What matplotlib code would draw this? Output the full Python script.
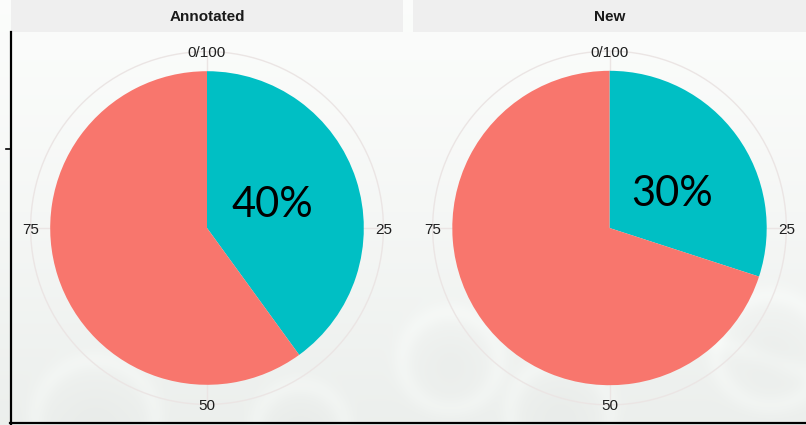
import numpy as np
import matplotlib
matplotlib.use("Agg")
import matplotlib.pyplot as plt
from matplotlib.patches import Circle, Rectangle
from matplotlib.lines import Line2D

# ---- data ----
panels = ["Annotated", "New"]
first_share = [40, 30]          # teal slice, percent
second_share = [60, 70]         # salmon slice, percent
slice_colors = ["#00BFC4", "#F8766D"]
theta_breaks = [0, 25, 50, 75]
theta_labels = ["0/100", "25", "50", "75"]
pct_labels = ["40%", "30%"]

W, H, DPI = 806, 425, 100
fig = plt.figure(figsize=(W / DPI, H / DPI), dpi=DPI)


def fx(px):
    return px / W


def fy(py):
    return 1 - py / H


# ---- soft backdrop with faint spheres ----
bg = fig.add_axes([0, 0, 1, 1])
bg.set_axis_off()
yy, xx = np.mgrid[0:H, 0:W].astype(float)
t = yy / H
img = np.zeros((H, W, 3))
top = np.array([0.985, 0.99, 0.985])
bot = np.array([0.925, 0.937, 0.928])
for c in range(3):
    img[..., c] = top[c] * (1 - t ** 1.3) + bot[c] * t ** 1.3
spheres = [(450, 360, 48), (560, 412, 50), (770, 350, 55), (95, 420, 60),
           (300, 430, 45), (690, 250, 40)]
for cx, cy, r in spheres:
    d = np.hypot(xx - cx, yy - cy)
    ring = 0.018 * np.exp(-((d - r) / 10.0) ** 2)
    core = -0.012 * np.exp(-(d / (0.6 * r)) ** 2)
    img += (ring + core)[..., None]
# a faint diagonal bond
d_bond = np.abs((yy - 300) - 0.35 * (xx - 600)) / np.hypot(1, 0.35)
img += (0.015 * np.exp(-(d_bond / 10.0) ** 2) * (xx > 480))[..., None]
img = np.clip(img, 0, 1)
bg.imshow(img, extent=[0, 1, 0, 1], aspect="auto", zorder=0)

# ---- panels ----
panel_px = [(11, 403), (413, 806)]
panel_top, panel_bot = 32, 424
pct_pos = [(0.166, 0.058), (0.159, 0.086)]   # label centres, panel units

for i, name in enumerate(panels):
    x0, x1 = panel_px[i]
    pw = x1 - x0
    ph = panel_bot - panel_top
    ax = fig.add_axes([fx(x0), fy(panel_bot), pw / W, ph / H])
    ax.patch.set_alpha(0)
    hw = 0.5
    hh = 0.5 * ph / pw

    # grid: outer circle and radial spokes
    grid_col = "#ebe5e4"
    ax.add_patch(Circle((0, 0), 0.45, fill=False, ec=grid_col, lw=1.0, zorder=1))
    for b in theta_breaks:
        a = np.deg2rad(90 - b / 100 * 360)
        ax.plot([0, 0.45 * np.cos(a)], [0, 0.45 * np.sin(a)], color=grid_col,
                lw=1.0, zorder=1)

    ax.pie([first_share[i], second_share[i]], colors=slice_colors, radius=0.4,
           startangle=90, counterclock=False, center=(0, 0),
           wedgeprops=dict(linewidth=0, zorder=2), frame=True)
    ax.set_xlim(-hw, hw)
    ax.set_ylim(-hh, hh)
    ax.set_aspect("auto")
    ax.set_axis_off()

    for b, lab in zip(theta_breaks, theta_labels):
        a = np.deg2rad(90 - b / 100 * 360)
        ax.text(0.45 * np.cos(a), 0.45 * np.sin(a) - 0.004, lab, ha="center",
                va="center", fontsize=11, family="Liberation Sans",
                color="#1e1e1e", zorder=3)

    px_, py_ = pct_pos[i]
    ax.text(px_, py_, pct_labels[i], ha="center", va="center", fontsize=30,
            family="Lato", color="black", zorder=4)

    # strip
    sax = fig.add_axes([fx(x0), fy(panel_top), pw / W, panel_top / H])
    sax.set_xlim(0, 1)
    sax.set_ylim(0, 1)
    sax.set_axis_off()
    sax.add_patch(Rectangle((0, 0), 1, 1, fc="#efefef", ec="none"))
    sax.text(0.5, 0.48, name, ha="center", va="center", fontsize=11,
             fontweight="bold", family="Liberation Sans", color="#1a1a1a")

# axis lines and tick
fig.add_artist(Line2D([fx(11), fx(11)], [fy(32), fy(423.5)], color="black", lw=1.6))
fig.add_artist(Line2D([fx(6), fx(11)], [fy(149), fy(149)], color="black", lw=1.2))
fig.add_artist(Line2D([fx(10.2), fx(806)], [fy(423), fy(423)], color="black", lw=1.6))

fig.savefig("out.png", dpi=DPI)
